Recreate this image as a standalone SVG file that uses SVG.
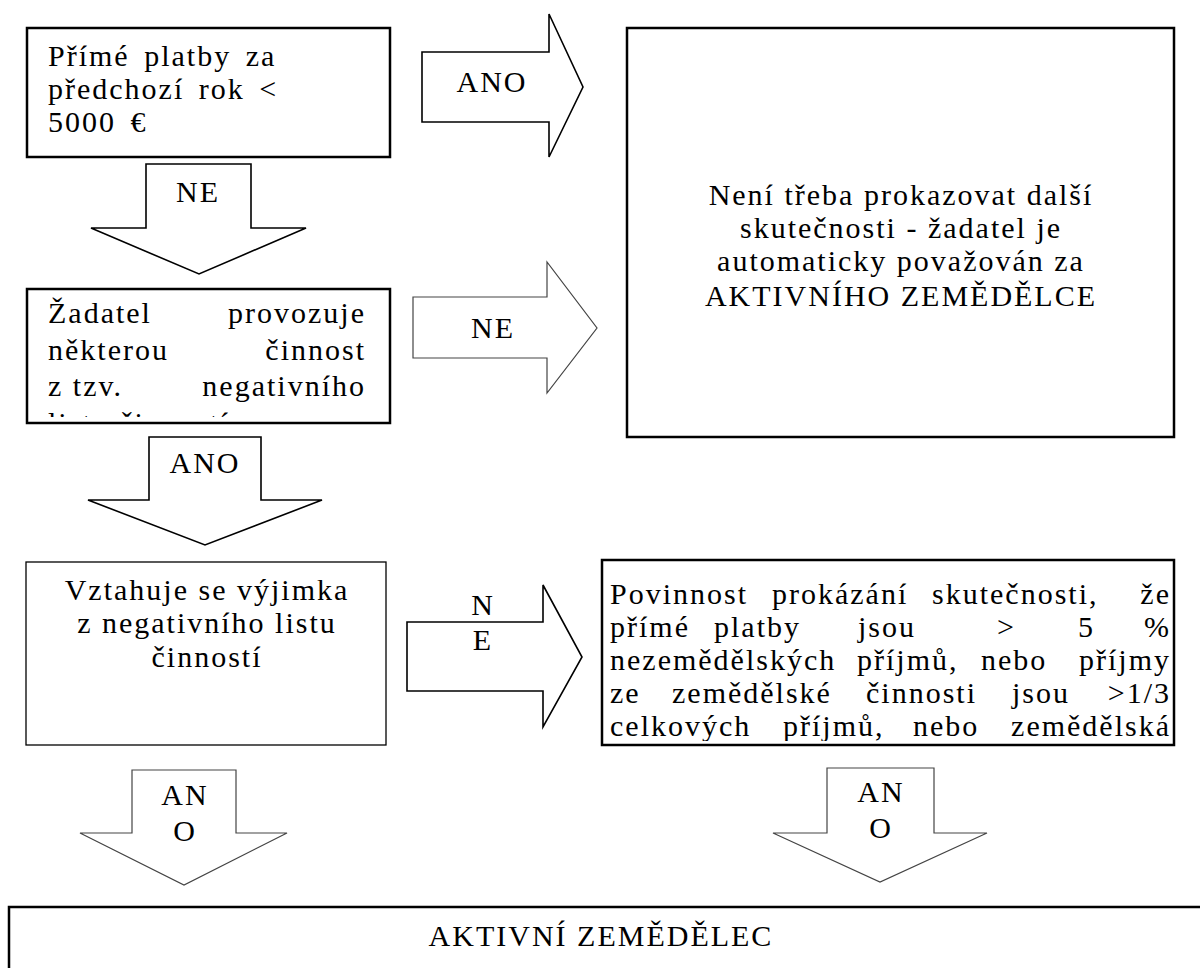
<svg xmlns="http://www.w3.org/2000/svg" width="1200" height="968" viewBox="0 0 1200 968" font-family="'Liberation Serif', 'Times New Roman', serif">
<defs>
<style>
text{font-family:"Liberation Serif","Times New Roman",serif;font-size:30px;fill:#000;letter-spacing:2px}
.box{fill:#fff;stroke:#000;stroke-width:2.5}
.thin{fill:#fff;stroke:#000;stroke-width:1.3}
.arr{fill:#fff;stroke:#000;stroke-width:1.6;stroke-linejoin:miter}
.arrg{fill:#fff;stroke:#444;stroke-width:1.2}
.lbl{font-size:30px;letter-spacing:2px;text-anchor:middle}
.mid{text-anchor:middle}
.end{text-anchor:end}
</style>
<clipPath id="c2"><rect x="27" y="289" width="363" height="128"/></clipPath>
<clipPath id="c4"><rect x="602" y="560" width="572" height="181"/></clipPath>
</defs>
<rect width="1200" height="968" fill="#fff"/>

<g id="connectors">
<polygon class="arr" points="146,164 251,164 251,228 306,228 199,274 91,228 146,228"/>
<polygon class="arr" points="422,52 549,52 549,14 583,87 549,157 549,122 422,122"/>
<polygon class="arrg" points="413,297 547,297 547,262 597,328 547,393 547,358 413,358"/>
<polygon class="arr" points="149,437 261,437 261,500 322,500 205,545 88,500 149,500"/>
<polygon class="arr" points="407,622 543,622 543,585 582,657 543,727 543,691 407,691"/>
<polygon class="arrg" points="132,770 236,770 236,833 287,833 184,885 80,833 132,833"/>
<polygon class="arrg" points="827,768 934,768 934,833 987,833 880,882 773,833 827,833"/>
<text class="lbl" x="492" y="92">ANO</text>
<text class="lbl" x="198" y="202">NE</text>
<text class="lbl" x="493" y="338">NE</text>
<text class="lbl" x="205" y="473">ANO</text>
<text class="lbl" x="483" y="615">N</text>
<text class="lbl" x="483" y="650">E</text>
<text class="lbl" x="185" y="805">AN</text>
<text class="lbl" x="185" y="841">O</text>
<text class="lbl" x="881" y="802">AN</text>
<text class="lbl" x="881" y="838">O</text>
</g>

<g id="n1">
<rect class="box" x="27" y="28" width="363" height="129"/>
<text x="48" y="66" word-spacing="5">Přímé platby za</text>
<text x="48" y="99" word-spacing="5">předchozí rok &lt;</text>
<text x="48" y="132" word-spacing="5">5000 €</text>
</g>

<g id="n2">
<rect class="box" x="627" y="28" width="547" height="409"/>
<text class="mid" x="901" y="205">Není třeba prokazovat další</text>
<text class="mid" x="901" y="238">skutečnosti - žadatel je</text>
<text class="mid" x="901" y="271">automaticky považován za</text>
<text class="mid" x="901" y="306">AKTIVNÍHO ZEMĚDĚLCE</text>
</g>

<g id="n3">
<rect class="box" x="27" y="289" width="363" height="134"/>
<g clip-path="url(#c2)">
<text x="48" y="323">Žadatel</text><text class="end" x="366" y="323">provozuje</text>
<text x="48" y="360">některou</text><text class="end" x="366" y="360">činnost</text>
<text x="48" y="396">z tzv.</text><text class="end" x="366" y="396">negativního</text>
<text x="48" y="433">listu činností</text>
</g>
</g>

<g id="n4">
<rect class="thin" x="26" y="562" width="360" height="183"/>
<text class="mid" x="207" y="600">Vztahuje se výjimka</text>
<text class="mid" x="207" y="633">z negativního listu</text>
<text class="mid" x="207" y="667">činností</text>
</g>

<g id="n5">
<rect class="box" x="602" y="560" width="572" height="185"/>
<g clip-path="url(#c4)">
<text x="610" y="604">Povinnost</text><text x="772" y="604">prokázání</text><text x="932" y="604">skutečnosti,</text><text class="end" x="1171" y="604">že</text>
<text x="610" y="637">přímé</text><text x="714" y="637">platby</text><text x="858" y="637">jsou</text><text x="997" y="637">&gt;</text><text x="1078" y="637">5</text><text class="end" x="1171" y="637">%</text>
<text x="610" y="670">nezemědělských</text><text x="857" y="670">příjmů,</text><text x="981" y="670">nebo</text><text class="end" x="1171" y="670">příjmy</text>
<text x="610" y="703">ze</text><text x="672" y="703">zemědělské</text><text x="866" y="703">činnosti</text><text x="1012" y="703">jsou</text><text class="end" x="1171" y="703">&gt;1/3</text>
<text x="610" y="736">celkových</text><text x="783" y="736">příjmů,</text><text x="913" y="736">nebo</text><text class="end" x="1171" y="736">zemědělská</text>
</g>
</g>

<g id="n6">
<rect class="box" x="9" y="907" width="1200" height="100"/>
<text class="mid" x="601" y="946">AKTIVNÍ ZEMĚDĚLEC</text>
</g>
</svg>
